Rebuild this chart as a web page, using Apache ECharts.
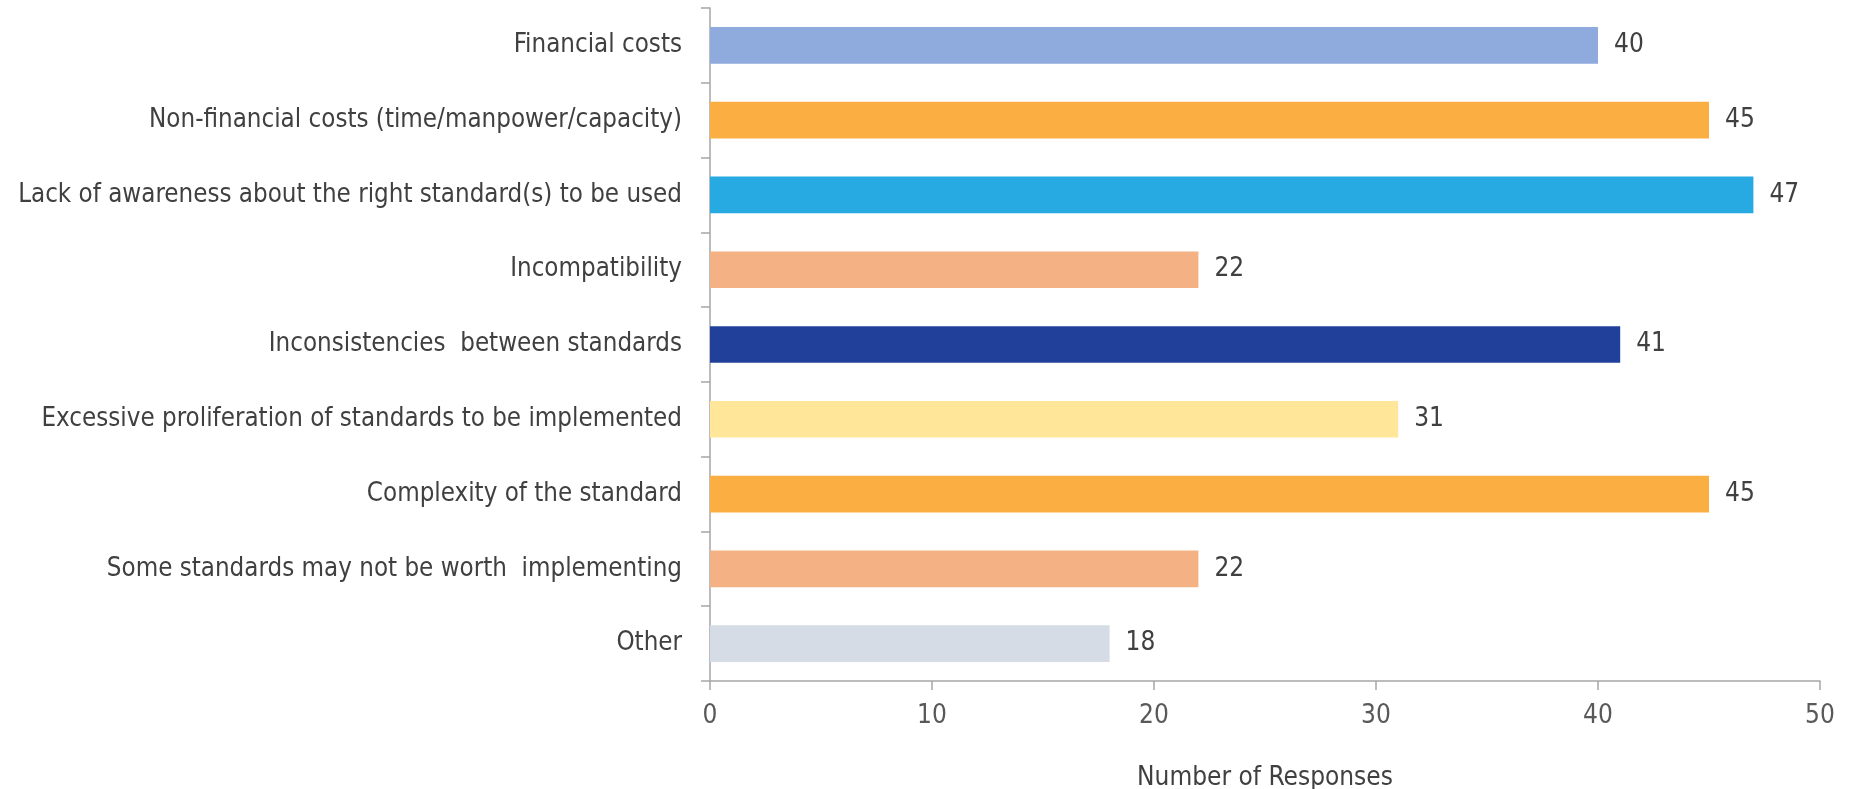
<!DOCTYPE html>
<html>
<head>
<meta charset="utf-8">
<script src="https://cdn.jsdelivr.net/npm/echarts@6/dist/echarts.min.js"></script>
<style>
html,body{margin:0;padding:0;background:#fff;}
#chart{width:1849px;height:789px;}
</style>
</head>
<body>
<div id="chart"></div>
<script>
const categories = [
  "Financial costs",
  "Non-financial costs (time/manpower/capacity)",
  "Lack of awareness about the right standard(s) to be used",
  "Incompatibility",
  "Inconsistencies  between standards",
  "Excessive proliferation of standards to be implemented",
  "Complexity of the standard",
  "Some standards may not be worth  implementing",
  "Other"
];
const responses = [40, 45, 47, 22, 41, 31, 45, 22, 18];
const barColors = ["#8FAADC", "#FBAE42", "#27A9E1", "#F4B183", "#21409A", "#FFE699", "#FBAE42", "#F4B183", "#D6DCE5"];
const xTicks = [0, 10, 20, 30, 40, 50];
const axisTitle = "Number of Responses";

const FONT = "'Liberation Sans Narrow', 'DejaVu Sans Condensed', sans-serif";
const chart = echarts.init(document.getElementById('chart'));
chart.setOption({
  animation: false,
  grid: { left: 710, right: 29, top: 8, bottom: 108, containLabel: false, outerBoundsMode: 'none' },
  xAxis: {
    type: 'value',
    min: xTicks[0],
    max: xTicks[xTicks.length - 1],
    interval: 10,
    name: axisTitle,
    nameLocation: 'middle',
    nameGap: 84,
    nameTextStyle: { fontFamily: FONT, fontSize: 26, color: '#404040' },
    axisLine: { show: true, lineStyle: { color: '#A6A6A6', width: 1.5 } },
    axisTick: { show: true, length: 9, lineStyle: { color: '#A6A6A6', width: 1.5 } },
    axisLabel: { fontFamily: FONT, fontSize: 26, color: '#595959', margin: 22 },
    splitLine: { show: false }
  },
  yAxis: {
    type: 'category',
    inverse: true,
    data: categories,
    axisLine: { show: true, lineStyle: { color: '#A6A6A6', width: 1.5 } },
    axisTick: { show: true, length: 9, inside: false, lineStyle: { color: '#A6A6A6', width: 1.5 } },
    axisLabel: { fontFamily: FONT, fontSize: 25.7, color: '#404040', margin: 28 }
  },
  series: [{
    type: 'bar',
    data: responses.map((v, i) => ({ value: v, itemStyle: { color: barColors[i] } })),
    barWidth: '49%',
    label: {
      show: true,
      position: 'right',
      distance: 16,
      fontFamily: FONT,
      fontSize: 26,
      color: '#404040'
    }
  }]
});
</script>
</body>
</html>
